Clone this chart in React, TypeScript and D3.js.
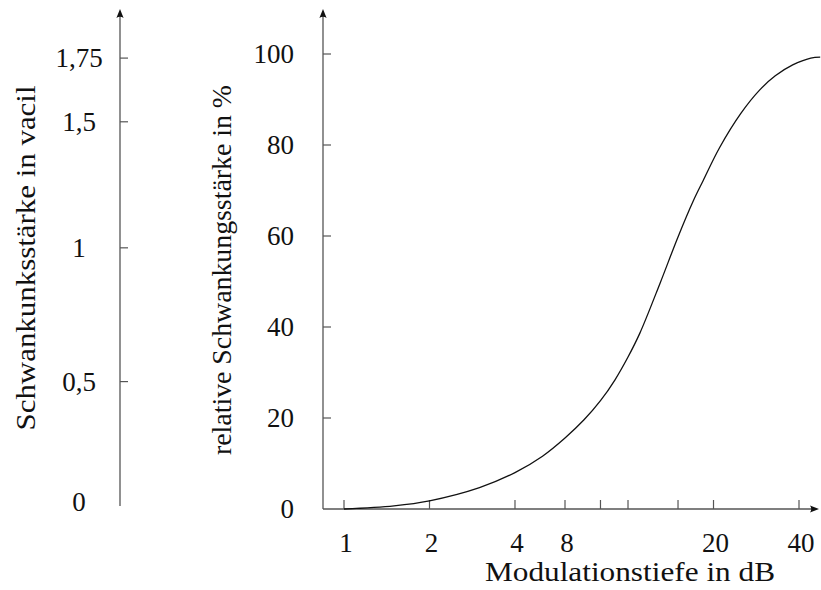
import * as d3 from "d3";

// Modulationstiefe (dB) vs. relative Schwankungsstärke (%)
const depthDb = [1, 1.5, 2, 3, 4, 5, 6, 7, 8, 9, 10, 11, 13, 15, 17, 18.4, 21, 25, 29, 33, 38, 44, 47.5];
const relStrength = [0, 0.7, 1.8, 4.7, 8, 11.6, 15.6, 19.6, 23.8, 28.4, 33.4, 38.6, 49.8, 59.8, 67.8, 72.2, 79.4, 87, 92, 95.2, 97.6, 99.1, 99.3];

// x axis: tick marks and the labels printed under them
const xTickValues = [1, 2, 4, 6, 8, 10, 15, 20, 40];
const xLabelValues = [1, 2, 4, 6, 20, 40];
const xLabelTexts = ["1", "2", "4", "8", "20", "40"];

// right axis (percent)
const yTickValues = [0, 20, 40, 60, 80, 100];

// left axis (vacil) and where each value sits on the percent scale
const vacilLabels = ["0", "0,5", "1", "1,5", "1,75"];
const vacilAsPercent = [1.5, 28, 57.4, 85.1, 99.1];
const vacilHasTick = [false, true, true, true, true];

const W = 821;
const H = 590;
const FONT = "Liberation Serif, DejaVu Serif, serif";
const FS = 27;
const AXIS = "#555";

function Arrow({ x, y, dir }: { x: number; y: number; dir: "up" | "right" }) {
  // latex-style arrow tip, drawn pointing right then rotated
  const rot = dir === "up" ? -90 : 0;
  return (
    <path
      d="M0,0 L-9,-3.6 Q-6.5,0 -9,3.6 Z"
      transform={`translate(${x},${y}) rotate(${rot})`}
      fill="#111"
    />
  );
}

export default function App() {
  const x = d3.scaleLog().domain([1, 40]).range([344, 799]);
  const y = d3.scaleLinear().domain([0, 100]).range([509, 54]);

  const axisX0 = 323;
  const axisXEnd = 819;
  const axisYTop = 9;
  const leftAxisX = 120;

  const line = d3
    .line<number>()
    .x((_, i) => x(depthDb[i]))
    .y((d) => y(d))
    .curve(d3.curveCatmullRom.alpha(0.5));

  return (
    <div style={{ position: "fixed", left: 0, top: 0 }}>
      <svg width={W} height={H} style={{ display: "block", background: "#fff" }}>
        <g style={{ fontFamily: FONT }} fontSize={FS} fill="#111">
          {/* left vacil axis */}
          <line x1={leftAxisX} x2={leftAxisX} y1={y(0) - 3} y2={axisYTop + 4} stroke={AXIS} strokeWidth={1.3} />
          <Arrow x={leftAxisX} y={axisYTop} dir="up" />
          {vacilLabels.map((t, i) => (
            <g key={t}>
              {vacilHasTick[i] && (
                <line
                  x1={leftAxisX}
                  x2={leftAxisX + 8}
                  y1={y(vacilAsPercent[i])}
                  y2={y(vacilAsPercent[i])}
                  stroke={AXIS}
                  strokeWidth={1.2}
                />
              )}
              <text x={79} y={y(vacilAsPercent[i])} textAnchor="middle" dominantBaseline="central">
                {t}
              </text>
            </g>
          ))}
          <text
            transform={`translate(35,258) rotate(-90)`}
            textAnchor="middle"
            textLength={345}
            lengthAdjust="spacingAndGlyphs"
          >
            Schwankunksstärke in vacil
          </text>

          {/* right percent axis */}
          <line x1={axisX0} x2={axisX0} y1={y(0)} y2={axisYTop + 4} stroke={AXIS} strokeWidth={1.3} />
          <Arrow x={axisX0} y={axisYTop} dir="up" />
          {yTickValues.map((v) => (
            <g key={v}>
              {v > 0 && (
                <line x1={axisX0} x2={axisX0 + 8} y1={y(v)} y2={y(v)} stroke={AXIS} strokeWidth={1.2} />
              )}
              <text x={294} y={y(v)} textAnchor="end" dominantBaseline="central">
                {v}
              </text>
            </g>
          ))}
          <text
            transform={`translate(231,270) rotate(-90)`}
            textAnchor="middle"
            textLength={370}
            lengthAdjust="spacingAndGlyphs"
          >
            relative Schwankungsstärke in %
          </text>

          {/* x axis */}
          <line x1={axisX0} x2={axisXEnd - 4} y1={y(0)} y2={y(0)} stroke={AXIS} strokeWidth={1.3} />
          <Arrow x={axisXEnd} y={y(0)} dir="right" />
          {xTickValues.map((v) => (
            <line key={v} x1={x(v)} x2={x(v)} y1={y(0)} y2={y(0) - 9} stroke={AXIS} strokeWidth={1.2} />
          ))}
          {xLabelValues.map((v, i) => (
            <text key={v} x={x(v) + 2} y={543} textAnchor="middle" dominantBaseline="central">
              {xLabelTexts[i]}
            </text>
          ))}
          <text x={630} y={581} textAnchor="middle" textLength={290} lengthAdjust="spacingAndGlyphs">
            Modulationstiefe in dB
          </text>
        </g>

        {/* curve */}
        <path d={line(relStrength) ?? ""} fill="none" stroke="#111" strokeWidth={1.3} />
      </svg>
    </div>
  );
}
